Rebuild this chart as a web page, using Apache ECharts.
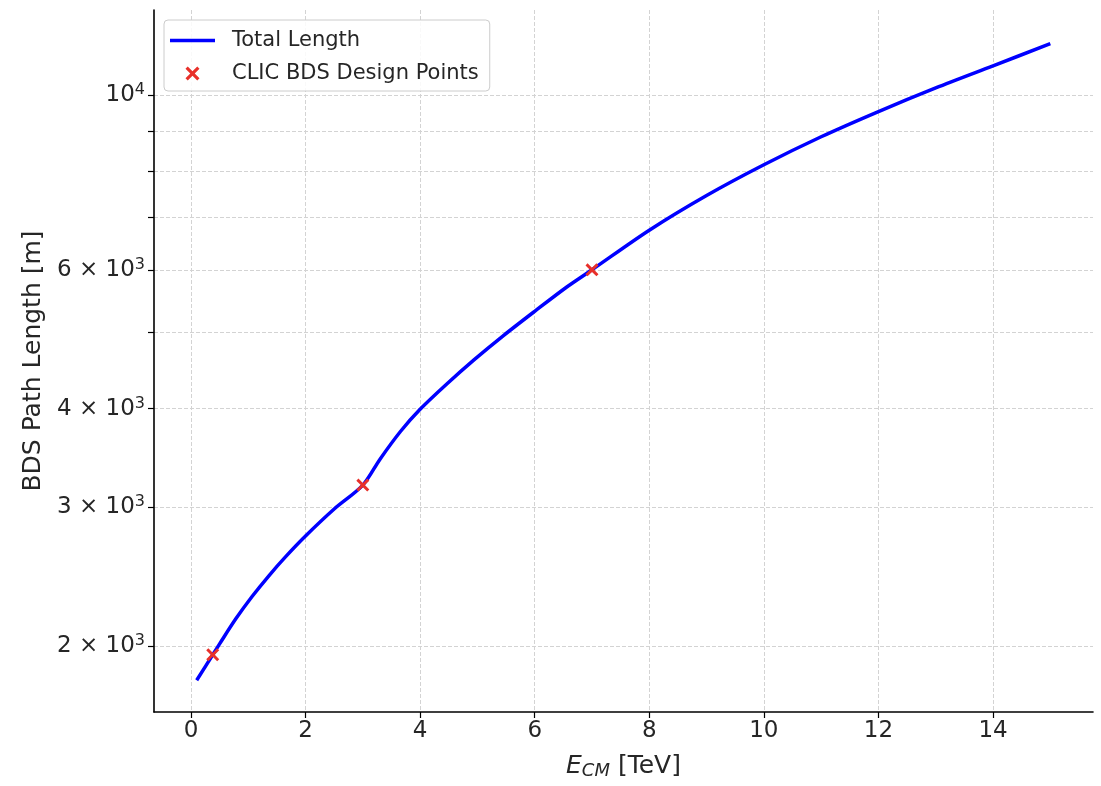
<!DOCTYPE html>
<html>
<head>
<meta charset="utf-8">
<title>BDS Path Length vs E_CM</title>
<script src="https://cdn.jsdelivr.net/npm/echarts@6/dist/echarts.min.js"></script>
<style>
  html, body { margin: 0; padding: 0; background: #ffffff; }
  #chart { width: 1101px; height: 786px; }
</style>
</head>
<body>
<div id="chart"></div>
<script>
// Total BDS path length as a function of centre-of-mass energy
const energy = [0.1, 0.38, 0.5, 0.78, 1.07, 1.36, 1.65, 2.0, 2.5, 3.0, 3.3, 3.66, 4.0, 4.47, 4.94, 5.46, 6.0, 6.56, 7.0, 8.0, 9.0, 10.0, 11.0, 12.0, 13.0, 14.0, 15.0];
const pathLength = [1810, 1950, 2013, 2164, 2313, 2456, 2595, 2758, 2984, 3200, 3452, 3745, 3993, 4302, 4612, 4955, 5315, 5706, 6000, 6735, 7453, 8153, 8848, 9524, 10205, 10884, 11609];

// CLIC design points
const designEnergy = [0.38, 3.0, 7.0];
const designLength = [1950, 3200, 6000];

// Axis ticks
const xTicks = [0, 2, 4, 6, 8, 10, 12, 14];
const yTicks = [2000, 3000, 4000, 5000, 6000, 7000, 8000, 9000, 10000];
const yLabels = [2000, 3000, 4000, 6000, 10000];

const FONT = 'DejaVu Sans';
const TEXT = '#262626';
const GRID = '#d3d3d3';

const crossIcon = 'path://M0,1.6L1.6,0L5,3.4L8.4,0L10,1.6L6.6,5L10,8.4L8.4,10L5,6.6L1.6,10L0,8.4L3.4,5Z';
const lineIcon = 'path://M0,0H90V7H0Z';

const chart = echarts.init(document.getElementById('chart'), null, { renderer: 'canvas' });

function yLabel(v) {
  const r = Math.round(v);
  if (r === 10000) return '10{sup|4}';
  return (r / 1000) + ' \u00d7 10{sup|3}';
}

chart.setOption({
  backgroundColor: '#ffffff',
  animation: false,
  textStyle: { fontFamily: FONT },
  grid: { left: 154, right: 8, top: 10, bottom: 74, containLabel: false },
  legend: {
    orient: 'vertical',
    left: 164,
    top: 20,
    padding: [10, 11, 7, 6],
    itemWidth: 45,
    itemHeight: 14,
    itemGap: 12,
    backgroundColor: 'rgba(255,255,255,0.85)',
    borderColor: '#cccccc',
    borderWidth: 1,
    borderRadius: 4,
    textStyle: { fontFamily: FONT, fontSize: 21, color: TEXT, padding: [0, 0, 0, 12] },
    data: [
      { name: 'Total Length', icon: lineIcon },
      { name: 'CLIC BDS Design Points', icon: crossIcon }
    ]
  },
  xAxis: {
    type: 'value',
    min: -0.645,
    max: 15.745,
    name: '{e|E}{s|CM} [TeV]',
    nameLocation: 'middle',
    nameGap: 40,
    nameTextStyle: {
      fontFamily: FONT, fontSize: 25, color: TEXT, lineHeight: 28,
      rich: {
        e: { fontFamily: FONT, fontSize: 25, fontStyle: 'italic', color: TEXT, lineHeight: 28 },
        s: { fontFamily: FONT, fontSize: 18, fontStyle: 'italic', color: TEXT, lineHeight: 17, verticalAlign: 'bottom' }
      }
    },
    axisLine: { show: true, onZero: false, lineStyle: { color: '#000000', width: 1.6 } },
    axisTick: { show: true, customValues: xTicks, length: 6, lineStyle: { color: '#000000', width: 1.2 } },
    axisLabel: { customValues: xTicks, margin: 8, fontFamily: FONT, fontSize: 23, color: TEXT },
    splitLine: { show: true, lineStyle: { color: GRID, type: [4, 2], width: 1 } }
  },
  yAxis: {
    type: 'log',
    logBase: 10,
    min: 1650,
    max: 12810,
    name: 'BDS Path Length [m]',
    nameLocation: 'middle',
    nameGap: 108,
    nameTextStyle: { fontFamily: FONT, fontSize: 25, color: TEXT },
    axisLine: { show: true, onZero: false, lineStyle: { color: '#000000', width: 1.6 } },
    axisTick: { show: true, customValues: yTicks, length: 6, lineStyle: { color: '#000000', width: 1.2 } },
    axisLabel: {
      customValues: yLabels,
      margin: 9,
      fontFamily: FONT,
      fontSize: 23,
      color: TEXT,
      lineHeight: 26,
      formatter: yLabel,
      rich: {
        sup: { fontFamily: FONT, fontSize: 16, color: TEXT, lineHeight: 16, verticalAlign: 'top' }
      }
    },
    splitLine: { show: true, lineStyle: { color: GRID, type: [4, 2], width: 1 } }
  },
  series: [
    {
      name: 'Total Length',
      type: 'line',
      data: energy.map((e, i) => [e, pathLength[i]]),
      symbol: 'none',
      showSymbol: false,
      smooth: 0.3,
      lineStyle: { color: '#0000ff', width: 3.5 },
      itemStyle: { color: '#0000ff' },
      z: 2
    },
    {
      name: 'CLIC BDS Design Points',
      type: 'scatter',
      data: designEnergy.map((e, i) => [e, designLength[i]]),
      symbol: crossIcon,
      symbolSize: 13,
      symbolKeepAspect: true,
      itemStyle: { color: '#e8302a', opacity: 1 },
      z: 3
    }
  ]
});
</script>
</body>
</html>
